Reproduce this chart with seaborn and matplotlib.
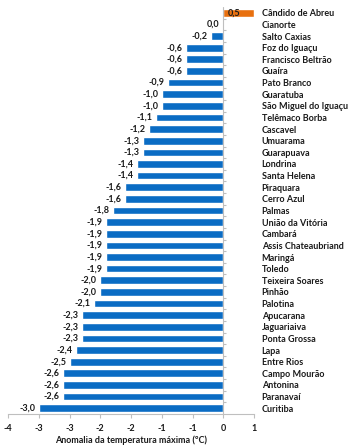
import matplotlib
matplotlib.use("Agg")
import matplotlib.pyplot as plt
import seaborn as sns
import numpy as np
import pandas as pd

cities = ["Cândido de Abreu", "Cianorte", "Salto Caxias", "Foz do Iguaçu", "Francisco Beltrão",
          "Guaíra", "Pato Branco", "Guaratuba", "São Miguel do Iguaçu", "Telêmaco Borba",
          "Cascavel", "Umuarama", "Guarapuava", "Londrina", "Santa Helena", "Piraquara",
          "Cerro Azul", "Palmas", "União da Vitória", "Cambará", "Assis Chateaubriand",
          "Maringá", "Toledo", "Teixeira Soares", "Pinhão", "Palotina", "Apucarana",
          "Jaguariaiva", "Ponta Grossa", "Lapa", "Entre Rios", "Campo Mourão", "Antonina",
          "Paranavaí", "Curitiba"]
values = [0.5, 0.0, -0.2, -0.6, -0.6, -0.6, -0.9, -1.0, -1.0, -1.1,
          -1.2, -1.3, -1.3, -1.4, -1.4, -1.6, -1.6, -1.8, -1.9, -1.9, -1.9,
          -1.9, -1.9, -2.0, -2.0, -2.1, -2.3, -2.3, -2.3, -2.4, -2.5, -2.6, -2.6,
          -2.6, -3.0]
x_ticks = [-3.5, -3.0, -2.5, -2.0, -1.5, -1.0, -0.5, 0.0, 0.5]
x_tick_labels = ["-4", "-3", "-3", "-2", "-2", "-1", "-1", "0", "1"]
x_label = "Anomalia da temperatura máxima (ºC)"

BLUE = "#0A6CC4"
ORANGE = "#E8700F"
TXT = "#1A1A1A"
GRID = "#BFBFBF"
FS = 6.5

df = pd.DataFrame({"city": cities, "value": values})
df["sign"] = np.where(df["value"] > 0, "pos", "neg")

sns.set_theme(style="white")
plt.rcParams["font.family"] = ["Lato", "DejaVu Sans"]
plt.rcParams["font.weight"] = "bold"

fig = plt.figure(figsize=(3.5, 4.46), dpi=100)
ax = fig.add_axes([8 / 350, 1 - 414 / 446, 246 / 350, 407 / 446])

sns.barplot(data=df, y="city", x="value", hue="sign", palette={"pos": ORANGE, "neg": BLUE},
            orient="h", width=0.66, legend=False, ax=ax, saturation=1)

n = len(cities)
ax.set_xlim(-3.5, 0.5)
ax.set_ylim(n - 0.5, -0.5)
ax.set_xticks(x_ticks)
ax.set_xticklabels(x_tick_labels, fontsize=FS, fontweight="bold", color=TXT)
ax.set_xlabel(x_label, fontsize=FS, fontweight="bold", color=TXT, labelpad=2)
ax.set_ylabel("")

ax.yaxis.tick_right()
ax.tick_params(axis="y", length=0, pad=5.5, labelsize=FS, labelcolor=TXT)
for t in ax.get_yticklabels():
    t.set_fontweight("bold")
ax.tick_params(axis="x", length=3, width=0.8, color=GRID, pad=4, direction="out", bottom=True)

for s in ["top", "right", "left"]:
    ax.spines[s].set_visible(False)
ax.spines["bottom"].set_color(GRID)
ax.spines["bottom"].set_linewidth(0.8)
ax.axvline(0, color=GRID, lw=0.8, zorder=3)
# small category tick marks on the value axis (between categories)
ax.hlines(np.arange(n - 1) + 0.5, 0, 0.05, color=GRID, lw=0.8, zorder=3)

for i, v in enumerate(values):
    txt = f"{v:.1f}".replace(".", ",")
    if v > 0:
        ax.annotate(txt, (0, i), xytext=(3, 0), textcoords="offset points",
                    ha="left", va="center", fontsize=FS, fontweight="bold", color=TXT)
    else:
        ax.annotate(txt, (v, i), xytext=(-2.5, 0), textcoords="offset points",
                    ha="right", va="center", fontsize=FS, fontweight="bold", color=TXT)

fig.savefig("out.png", dpi=100)
